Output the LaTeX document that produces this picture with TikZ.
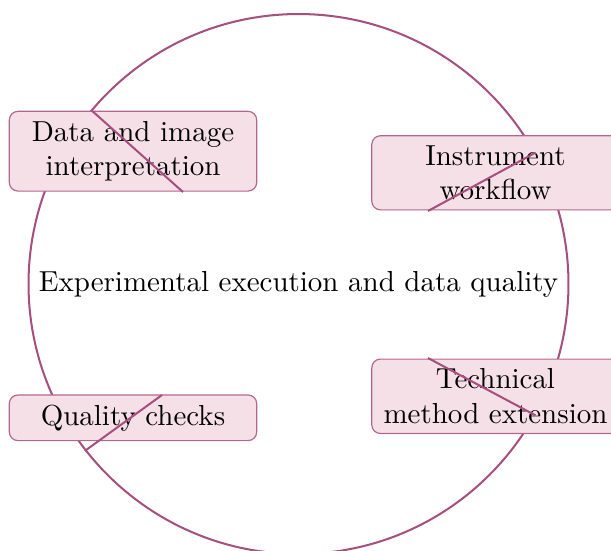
\documentclass[tikz,border=0pt]{standalone}
\usetikzlibrary{calc}
\definecolor{ringc}{HTML}{A5507E}
\definecolor{boxfill}{HTML}{F6E0E8}
\definecolor{boxline}{HTML}{B5668E}
\begin{document}
\begin{tikzpicture}[x=0.3454pt,y=-0.3454pt,
  ring/.style={circle,draw=ringc,line width=0.7pt,minimum size=186.5pt,inner sep=0pt,font=\normalsize},
  topic/.style={draw=boxline,fill=boxfill,line width=0.4pt,rounded corners=3pt,align=center,font=\normalsize,minimum width=85.45pt},
  pinline/.style={draw=ringc,line width=0.7pt}]
\useasboundingbox (0,0) rectangle (611,550);
\node[ring] (circ) at (298.5,284) {Experimental execution and data quality};
\node[topic] (data) at (133,151.2) {Data and image\\interpretation};
\node[topic] (instr) at (495.5,172.8) {Instrument\\workflow};
\node[topic] (qual) at (133,417.8) {Quality checks};
\node[topic] (tech) at (495.5,396.3) {Technical\\method extension};
\coordinate (e1) at (183,192);
\coordinate (e2) at (428,211);
\coordinate (e3) at (162,395);
\coordinate (e4) at (428,358);
\draw[pinline] (circ.140.9) -- (e1);
\draw[pinline] (circ.29.6) -- (e2);
\draw[pinline] (circ.218.8) -- (e3);
\draw[pinline] (circ.-29.7) -- (e4);
\end{tikzpicture}
\end{document}
